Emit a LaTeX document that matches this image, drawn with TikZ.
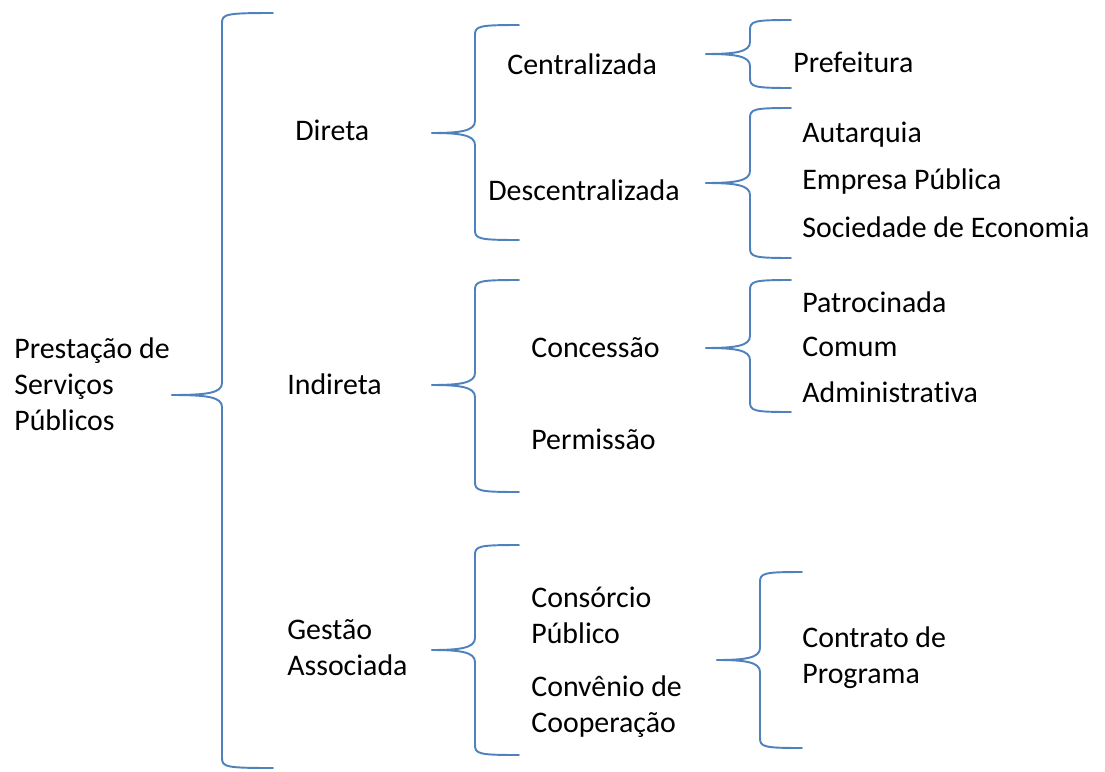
\documentclass[tikz,border=0pt]{standalone}
\usepackage{fontspec}
\setmainfont{Carlito}[Ligatures=NoCommon]
\definecolor{azul}{RGB}{79,129,189}
\newcommand{\chave}[6]{%
\draw[chave] (#1,#5) .. controls (#2-15,#5) and (#2,#5-2) .. (#2,#5-12)
  -- (#2,#4+10) .. controls (#2,#4+1) and (#2+4,#4) .. (#3,#4);
\draw[chave] (#1,#5) .. controls (#2-15,#5) and (#2,#5+2) .. (#2,#5+12)
  -- (#2,#6-10) .. controls (#2,#6-1) and (#2+4,#6) .. (#3,#6);}
\begin{document}
\begin{tikzpicture}[x=0.02cm,y=-0.02cm]
\tikzstyle{rotulo}=[anchor=base west,inner sep=0,align=left,font=\fontsize{17}{20.4}\selectfont]
\tikzstyle{chave}=[draw=azul,line width=1.1pt,line cap=round]
\useasboundingbox (0,0) rectangle (1105,771);
\node at(14,430)(prestacao)[rotulo]{Prestação de\\Serviços\\Públicos};
\node at(295,140)(direta)[rotulo]{Direta};
\node at(287,394)(indireta)[rotulo]{Indireta};
\node at(287,675)(gestao)[rotulo]{Gestão\\Associada};
\node at(507,74)(centralizada)[rotulo]{Centralizada};
\node at(488,200)(descentralizada)[rotulo]{Descentralizada};
\node at(531,357)(concessao)[rotulo]{Concessão};
\node at(531,449)(permissao)[rotulo]{Permissão};
\node at(531,643)(consorcio)[rotulo]{Consórcio\\Público};
\node at(531,732)(convenio)[rotulo]{Convênio de\\Cooperação};
\node at(793,72)(prefeitura)[rotulo]{Prefeitura};
\node at(802,142)(autarquia)[rotulo]{Autarquia};
\node at(802,189)(empresa)[rotulo]{Empresa Pública};
\node at(802,237)(sociedade)[rotulo]{Sociedade de Economia};
\node at(802,312)(patrocinada)[rotulo]{Patrocinada};
\node at(802,356)(comum)[rotulo]{Comum};
\node at(802,402)(administrativa)[rotulo]{Administrativa};
\node at(802,683)(contrato)[rotulo]{Contrato de\\Programa};
\chave{172}{222}{273}{13}{395}{768}
\chave{432}{475}{519}{25}{133}{240}
\chave{432}{475}{519}{280}{385}{492}
\chave{432}{475}{519}{545}{650}{755}
\chave{706}{750}{791}{20}{54}{88}
\chave{706}{750}{791}{108}{183}{258}
\chave{706}{750}{791}{280}{348}{412}
\chave{717}{760}{802}{572}{660}{748}
\end{tikzpicture}
\end{document}
